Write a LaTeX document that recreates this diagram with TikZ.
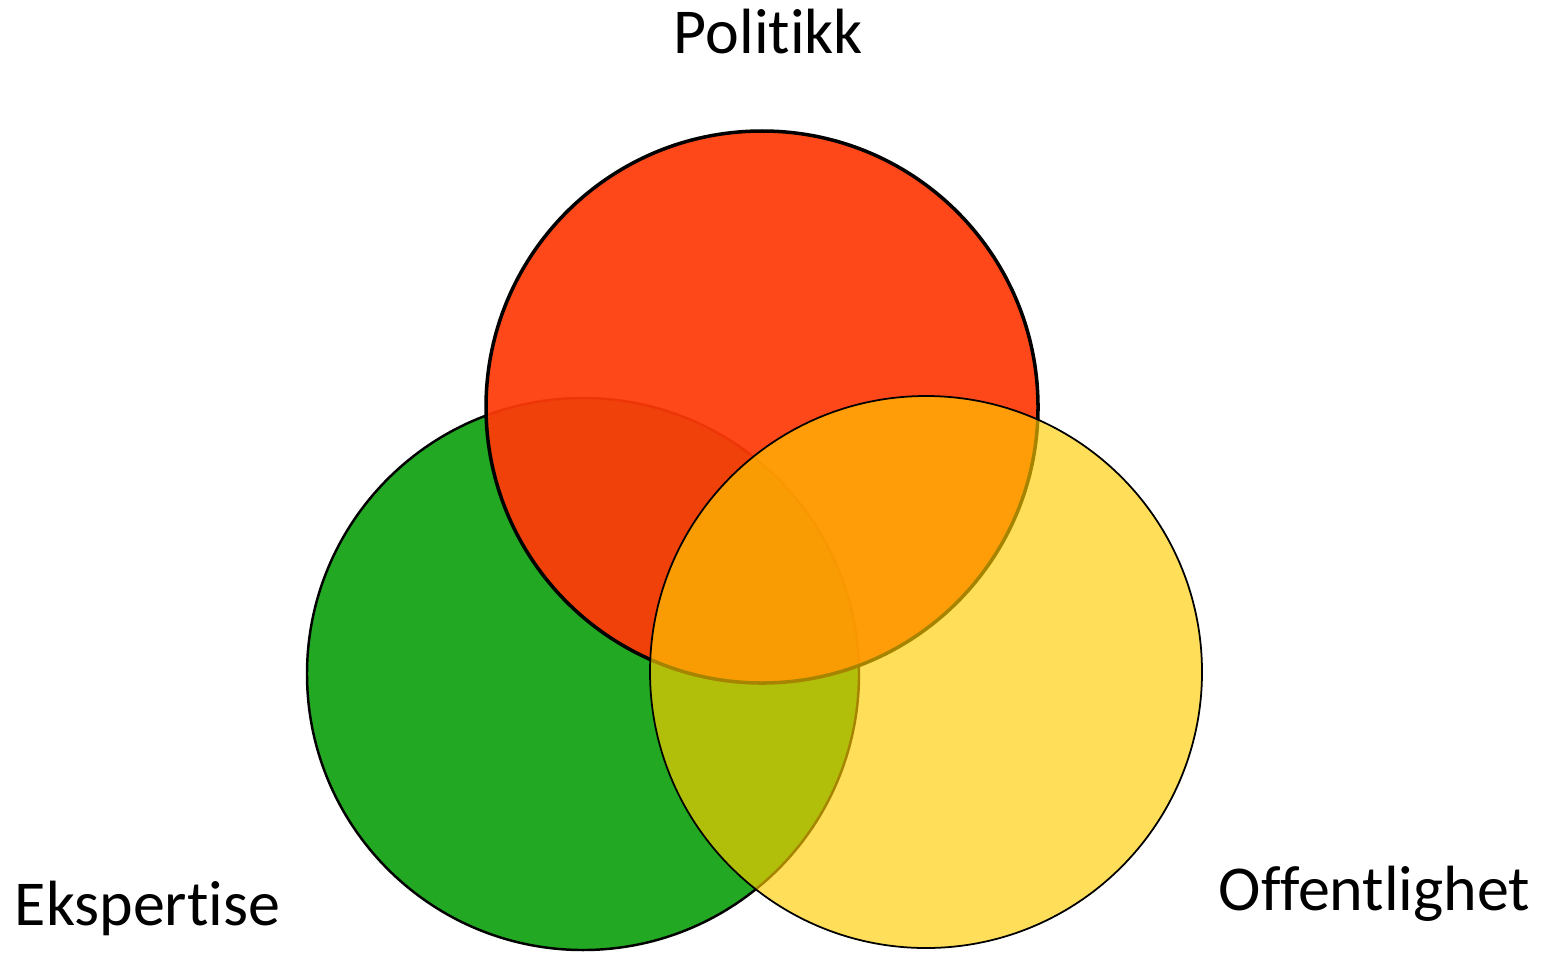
\documentclass[tikz,border=0pt]{standalone}
\usepackage{fontspec}
\setmainfont{Carlito}[Ligatures=CommonOff]
\definecolor{expgreen}{RGB}{34,168,34}
\definecolor{polred}{RGB}{255,58,8}
\definecolor{offyellow}{RGB}{255,204,0}
\begin{document}
\begin{tikzpicture}[
        venn/.style = {circle, draw=black, inner sep=0pt, minimum size=5.52cm},
        label text/.style = {font=\fontsize{18.2}{20}\selectfont, anchor=base}
        ]
    \useasboundingbox (0,0) rectangle (15.51,9.57);
    % circles, bottom to top
    \node[venn, fill=expgreen, line width=0.7pt] (ekspertise) at (5.83,2.83) {};
    \node[venn, fill=polred, fill opacity=0.93, line width=1pt] (politikk) at (7.62,5.50) {};
    \node[venn, fill=offyellow, fill opacity=0.65, line width=0.5pt] (offentlighet) at (9.26,2.85) {};
    % labels
    \node[label text] (politikk label) at (7.685,9.04) {Politikk};
    \node[label text] (ekspertise label) at (1.475,0.32) {Ekspertise};
    \node[label text] (offentlighet label) at (13.745,0.47) {Offentlighet};
\end{tikzpicture}
\end{document}
